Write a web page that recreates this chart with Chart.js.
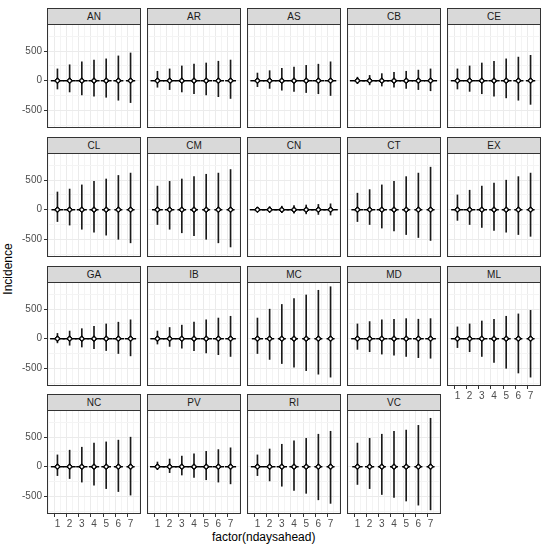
<!DOCTYPE html>
<html><head><meta charset="utf-8">
<script src="https://cdn.jsdelivr.net/npm/chart.js@4"></script>
<style>
body{margin:0;background:#fff;width:547px;height:550px;position:relative;font-family:"Liberation Sans",Arial,sans-serif;overflow:hidden}
.strip{position:absolute;height:17px;background:#d9d9d9;border:1px solid #333;box-sizing:border-box;font-size:10px;color:#1a1a1a;text-align:center;line-height:15px}
canvas{position:absolute}
.t{position:absolute;font-size:12px;color:#000}
</style></head><body>
<div class="t" style="left:-18px;top:262px;transform:rotate(-90deg)">Incidence</div>
<div class="t" style="left:212px;top:530px">factor(ndaysahead)</div>
<script>
const panels = ["AN","AR","AS","CB","CE","CL","CM","CN","CT","EX","GA","IB","MC","MD","ML","NC","PV","RI","VC"];
const horizons = [1,2,3,4,5,6,7];
const yTickLabels = [-500,0,500];
const maxVals = {
AN:[200,270,320,350,370,420,470], AR:[160,200,250,280,300,330,350], AS:[130,170,210,230,260,280,320],
CB:[60,90,120,140,160,180,200], CE:[200,250,300,330,370,400,430], CL:[300,350,420,480,520,580,620],
CM:[400,480,520,560,600,620,680], CN:[40,50,60,70,80,90,100], CT:[280,340,420,480,560,620,720],
EX:[250,330,400,450,500,560,620], GA:[90,130,170,210,250,280,320], IB:[130,190,230,280,320,350,380],
MC:[350,500,580,680,740,820,880], MD:[250,290,320,330,340,330,340], ML:[200,250,300,330,380,420,480],
NC:[200,280,330,400,420,450,500], PV:[80,130,180,220,260,290,320], RI:[200,300,380,440,480,550,600],
VC:[400,480,550,600,620,700,820]};
const minVals = {
AN:[-140,-190,-240,-260,-280,-330,-370], AR:[-110,-150,-190,-220,-240,-270,-300], AS:[-100,-130,-160,-180,-200,-220,-250],
CB:[-50,-70,-90,-110,-130,-150,-170], CE:[-140,-180,-220,-260,-290,-330,-400], CL:[-200,-260,-330,-380,-430,-500,-560],
CM:[-250,-330,-390,-440,-500,-560,-630], CN:[-30,-40,-50,-60,-70,-80,-90], CT:[-200,-250,-310,-360,-420,-470,-520],
EX:[-180,-250,-300,-350,-380,-420,-450], GA:[-70,-110,-140,-170,-200,-250,-290], IB:[-90,-130,-160,-200,-240,-270,-300],
MC:[-250,-350,-420,-480,-540,-600,-650], MD:[-180,-220,-260,-280,-300,-320,-330], ML:[-150,-220,-300,-400,-500,-580,-650],
NC:[-150,-200,-260,-310,-370,-420,-480], PV:[-50,-100,-140,-180,-220,-260,-290], RI:[-150,-240,-330,-400,-450,-560,-620],
VC:[-300,-370,-470,-520,-580,-650,-730]};
const medians = [0,0,0,0,0,0,0];

const colLeft=[47,147,247,347,447], W=94, rowTop=[8,137,266,394], SH=17, PH=104;
const border={id:'b',afterDraw(c){const a=c.chartArea,x=c.ctx;x.save();x.strokeStyle='#333';x.lineWidth=1;x.strokeRect(a.left+0.5,a.top+0.5,a.right-a.left-1,a.bottom-a.top-1);x.restore();}};
panels.forEach((p,i)=>{
  const r=Math.floor(i/5), c=i%5;
  const bottom = r===3 || (r===2 && c===4);
  const first = c===0;
  const s=document.createElement('div'); s.className='strip';
  s.style.left=colLeft[c]+'px'; s.style.top=rowTop[r]+'px'; s.style.width=W+'px'; s.textContent=p;
  document.body.appendChild(s);
  const cv=document.createElement('canvas');
  const left = first?0:colLeft[c], w = first?W+47:W, h = PH+(bottom?18:0);
  cv.width=w; cv.height=h; cv.style.left=left+'px'; cv.style.top=(rowTop[r]+SH-1)+'px';
  cv.style.width=w+'px'; cv.style.height=h+'px';
  document.body.appendChild(cv);
  const mx=maxVals[p], mn=minVals[p];
  const spread=mx.map((v,k)=>v-mn[k]);
  new Chart(cv,{
    type:'bar',
    data:{datasets:[
      {type:'scatter',data:horizons.map((x,k)=>({x,y:medians[k]})),pointStyle:'circle',radius:1.8,backgroundColor:'#fff',borderColor:'#000',borderWidth:1,order:0},
      {type:'scatter',data:horizons.map((x,k)=>({x,y:medians[k]})),pointStyle:'rectRot',radius:3,backgroundColor:'#000',borderColor:'#000',order:1},
      {type:'scatter',data:horizons.map((x,k)=>({x,y:medians[k]})),pointStyle:'line',radius:spread.map(v=>Math.max(4,8-v/250)),borderColor:'#000',borderWidth:1.5,order:2},
      {type:'bar',data:horizons.map((x,k)=>({x,y:[mn[k],mx[k]]})),backgroundColor:'#1a1a1a',barThickness:1,order:3}
    ]},
    options:{responsive:false,animation:false,devicePixelRatio:1,
      layout:{padding:0,autoPadding:false},
      plugins:{legend:{display:false},tooltip:{enabled:false}},
      scales:{
        x:{type:'linear',min:0.4,max:7.6,afterBuildTicks(s){s.ticks=[0.5,1,1.5,2,2.5,3,3.5,4,4.5,5,5.5,6,6.5,7,7.5].map(v=>({value:v}));},
          grid:{color:ctx=>Number.isInteger(ctx.tick&&ctx.tick.value)?'#ebebeb':'#f4f4f4',lineWidth:1,drawTicks:bottom,tickLength:3,tickColor:ctx=>Number.isInteger(ctx.tick&&ctx.tick.value)?'#333':'rgba(0,0,0,0)'},
          border:{display:false},
          ticks:{display:bottom,autoSkip:false,maxRotation:0,padding:1,color:'#4d4d4d',font:{size:10,family:'Liberation Sans'},callback:v=>Number.isInteger(v)?String(v):''},
          afterFit(s){s.height=bottom?18:0;s.paddingLeft=0;s.paddingRight=0;}},
        y:{min:-800,max:960,afterBuildTicks(s){s.ticks=[-750,-500,-250,0,250,500,750].map(v=>({value:v}));},
          grid:{color:ctx=>yTickLabels.includes(ctx.tick&&ctx.tick.value)?'#ebebeb':'#f4f4f4',drawTicks:first,tickLength:3,tickColor:ctx=>yTickLabels.includes(ctx.tick&&ctx.tick.value)?'#333':'rgba(0,0,0,0)'},
          border:{display:false},
          ticks:{display:first,autoSkip:false,padding:2,color:'#4d4d4d',font:{size:10,family:'Liberation Sans'},callback:v=>yTickLabels.includes(v)?String(v):''},
          afterFit(s){s.width=first?47:0;s.paddingTop=0;s.paddingBottom=0;}}
      }},
    plugins:[border]
  });
});
</script></body></html>
